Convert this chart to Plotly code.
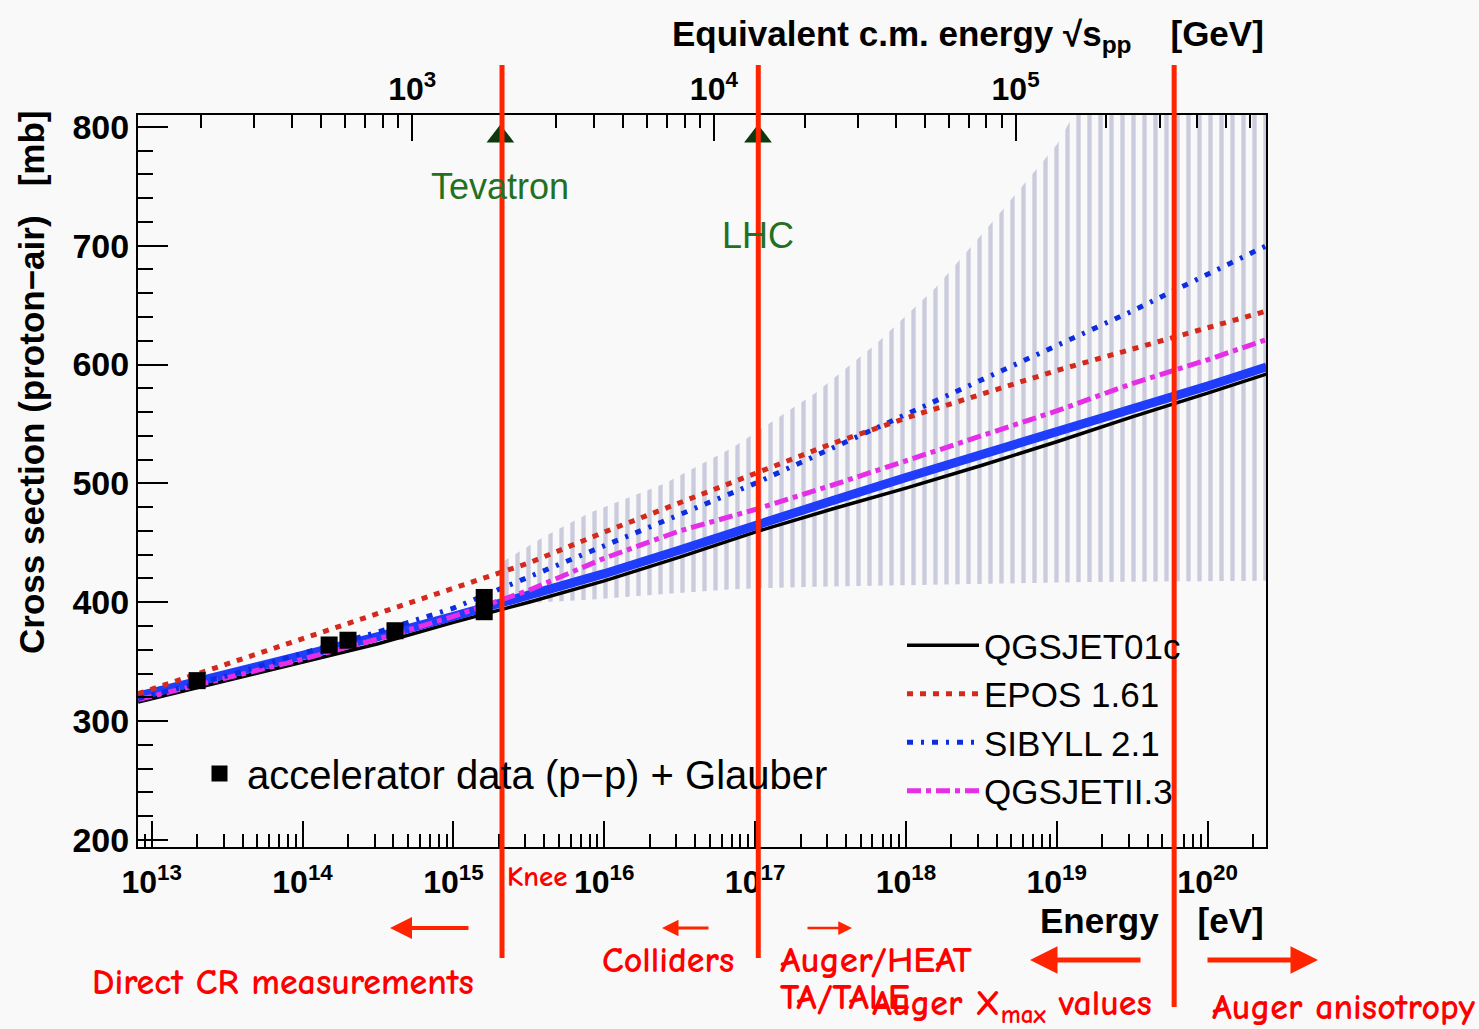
import math
import plotly.graph_objects as go

W, H = 1479, 1029
ML, MR, MT, MB = 138, 213, 115, 182
PW, PH = W - ML - MR, H - MT - MB


def px(xp):
    return (xp - ML) / PW


def py(yp):
    return (H - MB - yp) / PH


# ---------------- data ----------------
log_energy = [12.91, 13.5, 14.0, 14.5, 15.0, 15.5, 16.0, 16.5, 17.0, 17.5,
              18.0, 18.5, 19.0, 19.5, 20.0, 20.39]
energy = [10.0 ** v for v in log_energy]

qgsjet01c = [316, 334, 349, 365, 383, 400, 418, 438, 459, 478, 496, 515, 535, 556, 576, 592]
thick_blue = [321, 339, 355, 371, 388, 406, 424, 444, 465, 485, 505, 524, 543, 562, 582, 598]
epos161 = [323, 348, 369, 391, 412, 433, 459, 484, 509, 533, 555, 575, 595, 613, 631, 645]
sibyll21 = [319, 338, 357, 375, 395, 421, 448, 474, 500, 529, 558, 586, 615, 645, 676, 700]
qgsjet2 = [318, 336, 352, 369, 388, 410, 437, 460, 478, 498, 519, 540, 561, 584, 604, 621]

acc_energy = [2.0e13, 1.5e14, 2.0e14, 4.1e14, 1.6e15, 1.6e15]
acc_sigma = [334, 364, 368, 376, 392, 404]

band_log_energy = [15.3, 15.6, 15.9, 16.4, 16.85, 17.4, 17.8, 18.2, 18.6, 19.0, 19.2, 20.39]
band_energy = [10.0 ** v for v in band_log_energy]
band_upper = [432, 455, 475, 500, 530, 576, 617, 665, 724, 785, 830, 830]
band_lower = [398, 400, 402, 407, 411, 413, 414, 415, 416, 417, 417, 418]

collider_names = ["Tevatron", "LHC"]
collider_sqrt_s = [1960.0, 14000.0]          # GeV
collider_marker_sigma = [792, 792]
collider_label_sigma = [750, 709]

boundary_energy = [2.1e15, 1.05e17, 6.0e19]   # red vertical lines

x_major = [10.0 ** e for e in range(13, 21)]
x_major_text = ["10<sup>%d</sup>" % e for e in range(13, 21)]
x_minor = [k * 10.0 ** e for e in range(12, 21) for k in range(2, 10)]

top_major = [1e3, 1e4, 1e5]
top_major_text = ["10<sup>3</sup>", "10<sup>4</sup>", "10<sup>5</sup>"]
top_minor = [k * 10.0 ** e for e in range(2, 6) for k in range(2, 10)]

PROTON_MASS = 0.938  # GeV
x_range = [12.909, 20.387]
top_range = [0.5 * (math.log10(2 * PROTON_MASS) + v - 9) for v in x_range]

FONT = "Liberation Sans, Arial, Helvetica, sans-serif"
RED = "#ff2400"
RED_TXT = "#ff0000"
RED_FONT = "Comic Sans MS, Comic Neue, Lato, sans-serif"

fig = go.Figure()

# uncertainty band (hatched)
fig.add_trace(go.Scatter(x=band_energy, y=band_lower, mode="lines",
                         line=dict(width=0, color="rgba(0,0,0,0)"),
                         showlegend=False, hoverinfo="skip"))
fig.add_trace(go.Scatter(x=band_energy, y=band_upper, mode="lines",
                         line=dict(width=0, color="rgba(0,0,0,0)"),
                         fill="tonexty", fillcolor="rgba(0,0,0,0)",
                         fillpattern=dict(shape="|", size=11, solidity=0.4,
                                          fgcolor="#9c9fc2", bgcolor="rgba(0,0,0,0)"),
                         showlegend=False, hoverinfo="skip"))

# model curves
fig.add_trace(go.Scatter(x=energy, y=qgsjet01c, mode="lines", name="QGSJET01c",
                         line=dict(color="black", width=3.5), legend="legend", legendrank=1))
fig.add_trace(go.Scatter(x=energy, y=thick_blue, mode="lines", showlegend=False,
                         line=dict(color="#1f3dfa", width=9)))
fig.add_trace(go.Scatter(x=energy, y=qgsjet2, mode="lines", name="QGSJETII.3",
                         line=dict(color="#e62ee6", width=5, dash="14px,5px,5px,5px"),
                         legend="legend", legendrank=4))
fig.add_trace(go.Scatter(x=energy, y=sibyll21, mode="lines", name="SIBYLL 2.1",
                         line=dict(color="#0d2ee0", width=5, dash="6px,8px,3px,8px"),
                         legend="legend", legendrank=3))
fig.add_trace(go.Scatter(x=energy, y=epos161, mode="lines", name="EPOS 1.61",
                         line=dict(color="#d42a1e", width=5, dash="6px,7px"),
                         legend="legend", legendrank=2))

# accelerator data
fig.add_trace(go.Scatter(x=acc_energy, y=acc_sigma, mode="markers",
                         name="accelerator data (p\u2212p) + Glauber",
                         marker=dict(symbol="square", size=17, color="black"),
                         legend="legend2"))

# colliders on the sqrt(s) axis
fig.add_trace(go.Scatter(x=collider_sqrt_s, y=collider_marker_sigma, xaxis="x2",
                         mode="markers", showlegend=False,
                         marker=dict(symbol="triangle-up", size=24, color="#0c3a0c")))

fig.update_layout(
    width=W, height=H,
    margin=dict(l=ML, r=MR, t=MT, b=MB, pad=0),
    paper_bgcolor="#f9f9f9", plot_bgcolor="#f9f9f9",
    font=dict(family=FONT, color="black"),
    xaxis=dict(type="log", range=x_range, showgrid=False, zeroline=False,
               showline=True, linecolor="black", linewidth=2,
               ticks="inside", ticklen=26, tickwidth=2, tickcolor="black",
               tickmode="array", tickvals=x_major, ticktext=x_major_text,
               ticklabelstandoff=6,
               tickfont=dict(size=32, family=FONT, weight="bold"),
               minor=dict(tickmode="array", tickvals=x_minor, ticks="inside",
                          ticklen=13, tickwidth=2, tickcolor="black", showgrid=False)),
    xaxis2=dict(type="log", range=top_range, overlaying="x", side="top",
                showgrid=False, zeroline=False,
                showline=True, linecolor="black", linewidth=2,
                ticks="inside", ticklen=26, tickwidth=2, tickcolor="black",
                tickmode="array", tickvals=top_major, ticktext=top_major_text,
                tickfont=dict(size=32, family=FONT, weight="bold"),
                minor=dict(tickmode="array", tickvals=top_minor, ticks="inside",
                           ticklen=13, tickwidth=2, tickcolor="black", showgrid=False)),
    yaxis=dict(range=[194, 810], showgrid=False, zeroline=False,
               showline=True, linecolor="black", linewidth=2, mirror=True,
               ticks="inside", ticklen=30, tickwidth=2, tickcolor="black",
               tickmode="array", tickvals=[200, 300, 400, 500, 600, 700, 800],
               tickfont=dict(size=34, family=FONT, weight="bold"),
               minor=dict(dtick=20, ticks="inside", ticklen=15, tickwidth=2,
                          tickcolor="black", showgrid=False)),
    legend=dict(x=px(902), y=py(616), xanchor="left", yanchor="top",
                bgcolor="rgba(0,0,0,0)", borderwidth=0, itemwidth=72,
                font=dict(size=35, family=FONT), tracegroupgap=0, traceorder="normal"),
    legend2=dict(x=px(192), y=py(741), xanchor="left", yanchor="top",
                 bgcolor="rgba(0,0,0,0)", borderwidth=0, itemwidth=45,
                 font=dict(size=40, family=FONT)),
)

# red vertical lines
line_bottoms = [958, 958, 1007]
for e, yb in zip(boundary_energy, line_bottoms):
    fig.add_shape(type="line", xref="x", yref="paper", x0=e, x1=e,
                  y0=py(yb), y1=py(65), line=dict(color=RED, width=5), layer="above")

annotations = []
# collider labels
for name, s, ys in zip(collider_names, collider_sqrt_s, collider_label_sigma):
    e_ev = s ** 2 / (2 * PROTON_MASS) * 1e9
    annotations.append(dict(xref="x", yref="y", x=math.log10(e_ev), y=ys, text=name,
                            showarrow=False, font=dict(size=36, color="#237023", family=FONT)))

# axis titles
annotations.append(dict(xref="paper", yref="paper", x=px(1266), y=py(36), xanchor="right",
                        yanchor="middle", showarrow=False,
                        text="Equivalent c.m. energy \u221as<sub>pp</sub>\u00a0\u00a0\u00a0\u00a0[GeV]",
                        font=dict(size=35, family=FONT, weight="bold")))
annotations.append(dict(xref="paper", yref="paper", x=px(1266), y=py(920), xanchor="right",
                        yanchor="middle", showarrow=False,
                        text="Energy\u00a0\u00a0\u00a0\u00a0[eV]",
                        font=dict(size=35, family=FONT, weight="bold")))
annotations.append(dict(xref="paper", yref="paper", x=px(31), y=py(382), xanchor="center",
                        yanchor="middle", showarrow=False, textangle=-90,
                        text="Cross section (proton\u2212air)\u00a0\u00a0\u00a0[mb]",
                        font=dict(size=35, family=FONT, weight="bold")))

# red overlay texts (left edge x, centre y, size)
red_texts = [
    ("Knee", 505, 876, 29),
    ("Direct CR measurements", 90, 982, 36),
    ("Colliders", 600, 960, 36),
    ("Auger/HEAT", 778, 960, 37),
    ("TA/TALE", 778, 997, 37),
    ("Auger X<sub>max</sub> values", 870, 1006, 36),
    ("Auger anisotropy", 1210, 1007, 36),
]
for t, xl, yc, fs in red_texts:
    annotations.append(dict(xref="paper", yref="paper", x=px(xl), y=py(yc), xanchor="left",
                            yanchor="middle", showarrow=False, text=t,
                            font=dict(size=fs, family=RED_FONT, color=RED_TXT, weight="bold")))

# red arrows (head, tail in pixels)
arrows = [((390, 928), (470, 928), 4),
          ((662, 928), (710, 928), 3),
          ((852, 928), (806, 928), 2.5),
          ((1030, 960), (1142, 960), 5),
          ((1318, 960), (1206, 960), 5)]
for (hx, hy), (tx, ty), w in arrows:
    annotations.append(dict(xref="paper", yref="paper", x=px(hx), y=py(hy),
                            ax=tx - hx, ay=ty - hy, axref="pixel", ayref="pixel",
                            text="", showarrow=True, arrowhead=2, arrowsize=1.1,
                            arrowwidth=w, arrowcolor=RED))

fig.update_layout(annotations=annotations)
fig.write_html("out.html")
